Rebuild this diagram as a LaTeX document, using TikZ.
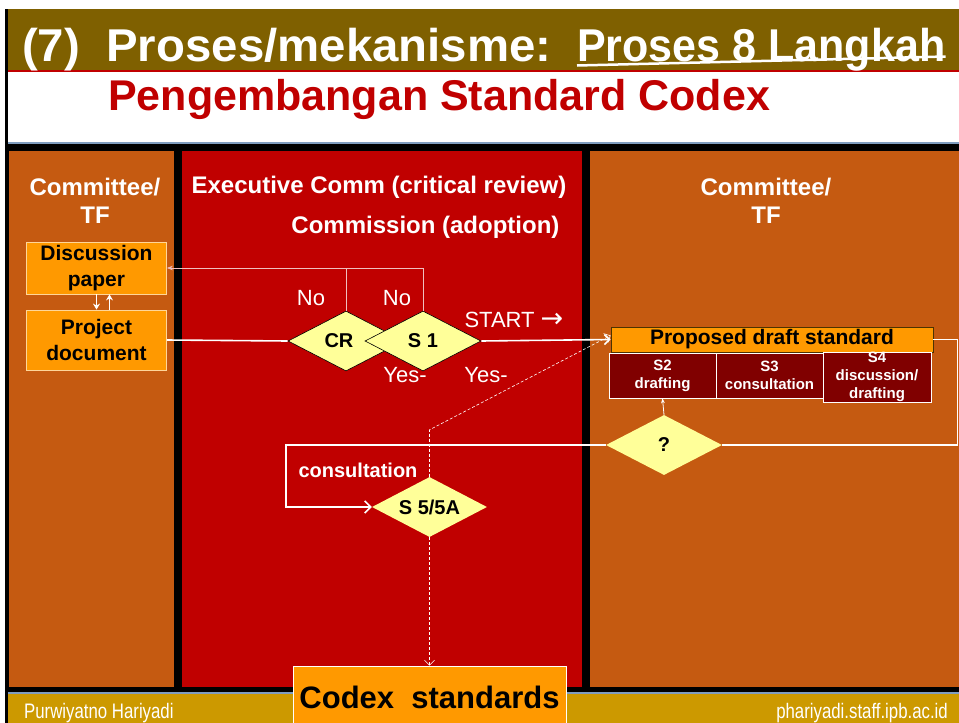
\documentclass[tikz,border=0pt]{standalone}
\usepackage{fontspec}
\setmainfont{Liberation Sans}
\newfontfamily\arrowfont{DejaVu Sans}
\usetikzlibrary{shapes.geometric,arrows.meta}
\definecolor{titleolive}{HTML}{7F6000}
\definecolor{colorange}{HTML}{C55A11}
\definecolor{colred}{HTML}{C00000}
\definecolor{boxorange}{HTML}{FF9900}
\definecolor{cellred}{HTML}{800000}
\definecolor{diayellow}{HTML}{FFFF99}
\definecolor{footgold}{HTML}{CC9900}
\definecolor{bandblue}{HTML}{7F9DBF}
\definecolor{pdsborder}{HTML}{4D3300}
\tikzset{
  procbox/.style={draw=white!60!boxorange, fill=boxorange, line width=0.8pt, align=center,
    inner sep=0pt, font=\bfseries\fontsize{21}{26}\selectfont},
  decision/.style={diamond, aspect=2, fill=diayellow, minimum width=116pt, minimum height=60pt,
    inner sep=0pt, font=\bfseries\fontsize{20}{22}\selectfont},
  cellbox/.style={draw=white, fill=cellred, text=white, line width=0.6pt, align=center,
    minimum height=45pt, inner sep=0pt, font=\bfseries\fontsize{15}{18}\selectfont},
  header/.style={text=white, align=center, font=\bfseries\fontsize{24}{28}\selectfont},
  answer/.style={text=white, font=\fontsize{22}{24}\selectfont},
  flow/.style={draw=white, line width=1.6pt},
  fb/.style={draw=white!75!colred, line width=0.7pt},
  guide/.style={draw=white, dashed, line width=0.6pt, dash pattern=on 3pt off 2pt},
}
\begin{document}
\begin{tikzpicture}[x=1pt,y=-1pt]
  \useasboundingbox (0,0) rectangle (959,723);
  % slide frame
  \fill[white] (0,0) rectangle (959,723);
  \fill[black] (5,9) rectangle (959,723);
  \fill[titleolive] (8,9) rectangle (959,70);
  \fill[colred] (8,70) rectangle (959,72);
  \fill[white] (8,72) rectangle (959,142);
  \fill[bandblue] (8,142) rectangle (959,144);
  \fill[colorange] (8.5,151) rectangle (174,687);
  \fill[colred] (182,151) rectangle (582,687);
  \fill[colorange] (590,151) rectangle (959,687);
  \fill[bandblue] (8,692) rectangle (959,694);
  \fill[footgold] (8,694) rectangle (959,723);

  \draw (22,61) node[anchor=base west, text=white, font=\bfseries\fontsize{46}{50}\selectfont, inner sep=0pt](ttlA)
    {\scalebox{1.03}[1]{(7)\ \ Proses/mekanisme:}};
  \draw (577,61) node[anchor=base west, text=white, font=\bfseries\fontsize{46}{50}\selectfont, inner sep=0pt](ttlB)
    {\scalebox{0.935}[1]{Proses 8 Langkah}};
  \draw[white, line width=2.5pt] (ttlB.base west) ++(0,4.5) -- ([yshift=4.5pt]ttlB.base east);
  \draw (108,110) node[anchor=base west, text=colred, font=\bfseries\fontsize{43}{46}\selectfont, inner sep=0pt](sub)
    {Pengembangan Standard Codex};

  \draw (95,201) node[header](hleft) {Committee/\\TF};
  \draw (379,187) node[header](hmid) {Executive Comm (critical review)};
  \draw (563,227) node[header, anchor=east](hcom) {Commission (adoption)};
  \draw (766,201) node[header](hright) {Committee/\\TF};

  \draw (96.5,268) node[procbox, minimum width=140pt, minimum height=52pt](disc) {Discussion\\paper};
  \draw (96.5,340) node[procbox, minimum width=140pt, minimum height=60pt](proj) {Project\\document};
  \draw[white, line width=1.4pt, -{Stealth[length=6pt,width=7pt]}] (disc.south) -- (proj.north);
  \draw[white, line width=1.4pt, -{Stealth[length=6pt,width=7pt]}] ([xshift=13pt]proj.north) -- ([xshift=13pt]disc.south);

  \draw (346,341) node[decision, draw=black, line width=0.6pt](cr) {\hspace*{-14pt}CR};
  \draw (423,341) node[decision, draw=black, line width=0.6pt](sone) {S 1};
  \draw (664,445) node[decision](qmark) {?};
  \draw (429.5,507) node[decision, minimum width=115pt](sfive) {S 5/5A};

  \draw (772,339.5) node[procbox, draw=pdsborder, minimum width=322pt, minimum height=25pt](pds) {Proposed draft standard};
  \draw (662.5,375.5) node[cellbox, minimum width=107pt](stwo) {S2\\drafting};
  \draw (769.5,375.5) node[cellbox, minimum width=107pt](sthree) {S3\\consultation};
  \draw (877,377) node[cellbox, minimum width=108pt](sfour) {S4\\discussion/\\drafting};

  \draw (429.5,697) node[procbox, draw=white, minimum width=273pt, minimum height=62pt,
    font=\bfseries\fontsize{31}{34}\selectfont](codex) {Codex\ \ standards};

  \draw (311,298) node[answer](noA) {No};
  \draw (397,298) node[answer](noB) {No};
  \draw (461,320) node[answer, anchor=west](start) {START {\arrowfont\fontsize{27}{28}\selectfont →}};
  \draw (405,375) node[answer](yesA) {Yes-};
  \draw (486,375) node[answer](yesB) {Yes-};
  \draw (358,470) node[text=white, font=\bfseries\fontsize{20}{22}\selectfont](consult) {consultation};

  \draw[fb, -{Stealth[length=6pt]}] (sone.north) |- (disc.east);
  \draw[fb] (cr.north) -- (cr.north |- disc.east);
  \draw[flow] (proj.east) -- (cr.west);
  \draw[flow, -{Straight Barb[length=5pt]}] (sone.east) -- (pds.west);
  \draw[flow] (pds.east) -- ++(24,0) |- (qmark.east);
  \draw[white, line width=0.8pt, -{Stealth[length=5pt]}] (qmark.north) -- (stwo.south);
  \draw[flow, -{Straight Barb[length=6pt]}] (qmark.west) -- (286,445) |- (sfive.west);
  \draw[guide, -{Straight Barb[length=5pt]}] (sfive.north) -- ++(0,-47) -- ([yshift=4pt]pds.west);
  \draw[guide, -{Straight Barb[length=5pt]}] (sfive.south) -- (codex.north);

  \draw (24,713) node[anchor=west, text=white, font=\fontsize{21}{23}\selectfont, inner sep=0pt](author)
    {\scalebox{0.8}[1]{Purwiyatno Hariyadi}};
  \draw (948,713) node[anchor=east, text=white, font=\fontsize{21}{23}\selectfont, inner sep=0pt](site)
    {\scalebox{0.8}[1]{phariyadi.staff.ipb.ac.id}};
\end{tikzpicture}
\end{document}
